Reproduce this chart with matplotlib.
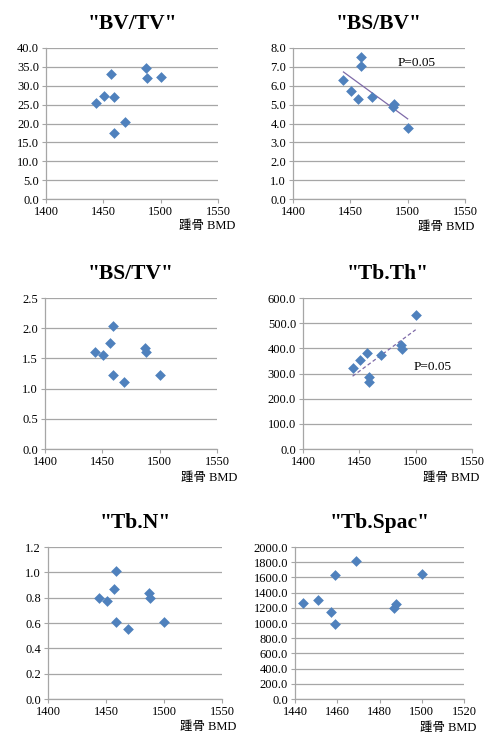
import numpy as np
import matplotlib.pyplot as plt

# 踵骨 BMD (9 subjects)
bmd = [1444, 1451, 1457, 1459, 1459, 1469, 1487, 1488, 1500]

bv_tv = [25.4, 27.3, 33.2, 27.1, 17.5, 20.5, 34.6, 32.0, 32.4]
bs_bv = [6.3, 5.7, 5.3, 7.5, 7.05, 5.4, 4.85, 5.05, 3.75]
bs_tv = [1.60, 1.55, 1.75, 2.03, 1.23, 1.11, 1.67, 1.60, 1.22]
tb_th = [320, 352, 380, 285, 268, 372, 415, 398, 532]
tb_n = [0.80, 0.77, 0.87, 1.01, 0.61, 0.555, 0.835, 0.80, 0.605]
tb_spac = [1260, 1300, 1150, 1630, 990, 1810, 1200, 1250, 1645]

titles = ['"BV/TV"', '"BS/BV"', '"BS/TV"', '"Tb.Th"', '"Tb.N"', '"Tb.Spac"']
series = [bv_tv, bs_bv, bs_tv, tb_th, tb_n, tb_spac]
yticks = [np.arange(0, 40.1, 5), np.arange(0, 8.1, 1), np.arange(0, 2.51, 0.5),
          np.arange(0, 601, 100), np.arange(0, 1.21, 0.2), np.arange(0, 2001, 200)]
xticks = [[1400, 1450, 1500, 1550]] * 5 + [[1440, 1460, 1480, 1500, 1520]]

W, H = 485, 735
# axes boxes in pixels: left, top, right, bottom
boxes = [(46, 48, 218, 199), (293, 48, 465, 199),
         (45, 298, 217, 449), (303, 298, 472, 449),
         (48, 547, 222, 699), (295, 547, 464, 699)]
# x-axis label anchor (right edge, vertical centre) in pixels
lab_pos = [(235, 226), (474, 227), (237, 478), (479, 478), (236, 727), (476, 728)]

serif = 'Liberation Serif'
fig = plt.figure(figsize=(W / 100, H / 100), dpi=100)

for i in range(6):
    l, t, r, b = boxes[i]
    ax = fig.add_axes([l / W, 1 - b / H, (r - l) / W, (b - t) / H])
    y = series[i]
    ax.scatter(bmd, y, marker='D', s=30, color='#4F81BD', zorder=3, linewidths=0)
    ax.set_xlim(xticks[i][0], xticks[i][-1])
    ax.set_ylim(yticks[i][0], yticks[i][-1])
    ax.set_xticks(xticks[i])
    ax.set_yticks(yticks[i])
    ax.set_xticklabels([str(v) for v in xticks[i]], fontfamily=serif, fontsize=9)
    ax.set_yticklabels(['%.1f' % v for v in yticks[i]], fontfamily=serif, fontsize=9)
    ax.grid(axis='y', color='#A6A6A6', linewidth=0.9)
    ax.set_axisbelow(True)
    for s in ['top', 'right']:
        ax.spines[s].set_visible(False)
    for s in ['left', 'bottom']:
        ax.spines[s].set_color('#A6A6A6')
        ax.spines[s].set_linewidth(0.9)
    ax.tick_params(length=3, color='#A6A6A6', pad=2)
    ax.set_title(titles[i], fontfamily=serif, fontsize=15.5, fontweight='bold', pad=14)
    lx, ly = lab_pos[i]
    fig.text(lx / W, 1 - ly / H, '踵骨 BMD', ha='right', va='center',
             fontsize=9, family=[serif, 'Noto Sans CJK JP'])

# trend lines
ax2 = fig.axes[1]
k, c = np.polyfit(bmd, bs_bv, 1)
xs = np.array([1444, 1500])
ax2.plot(xs, k * xs + c, color='#7E6AA8', linewidth=0.9, zorder=2)
ax2.text(1491, 7.2, 'P=0.05', fontfamily=serif, fontsize=9.5, va='center')

ax4 = fig.axes[3]
k, c = np.polyfit(bmd, tb_th, 1)
ax4.plot(xs, k * xs + c, color='#7E6AA8', linewidth=0.9, linestyle=(0, (3, 2)), zorder=2)
ax4.text(1498, 324, 'P=0.05', fontfamily=serif, fontsize=9.5, va='center')

fig.savefig('out.png', dpi=100)
